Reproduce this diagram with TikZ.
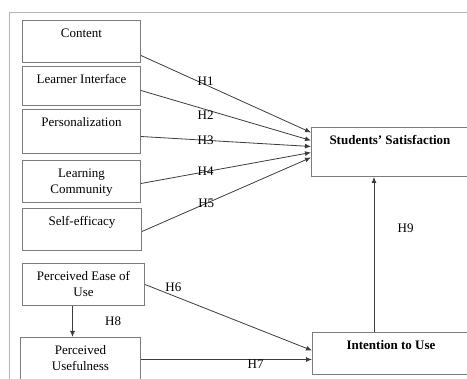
\documentclass[tikz,border=0pt]{standalone}
\usepackage{fontspec}
\setmainfont{Liberation Serif}
\usetikzlibrary{positioning,arrows.meta}
\definecolor{framegray}{HTML}{B4B4B4}
\definecolor{boxgray}{HTML}{7C7C7C}
\definecolor{linegray}{HTML}{3C3C3C}
\newcommand{\factortext}[3]{\parbox[c][#2][t]{#1}{\centering\rule{0pt}{17pt}#3}}

\begin{document}
\begin{tikzpicture}[x=1pt,y=-1pt,
  font=\fontsize{13}{16}\selectfont,
  factor/.style={draw=boxgray, line width=1pt, inner sep=0pt, anchor=north west},
  hyp/.style={draw=linegray, line width=0.8pt, -{Latex[length=6pt,width=5pt]}}]
\useasboundingbox (0,0) rectangle (467,379);
\clip (0,0) rectangle (467,379);
\draw[framegray, line width=1pt] (9,13) rectangle (490,400);
% antecedents
\node[factor] (content) at (22,20) {\factortext{118pt}{42pt}{Content}};
\node[factor] (interface) at (22,66) {\factortext{118pt}{39pt}{Learner Interface}};
\node[factor] (personal) at (22,109) {\factortext{118pt}{44pt}{Personalization}};
\node[factor] (community) at (22,160) {\factortext{118pt}{42pt}{Learning\\ Community}};
\node[factor] (selfeff) at (22,208) {\factortext{119pt}{42pt}{Self-efficacy}};
\node[factor] (ease) at (22,263) {\factortext{122pt}{42pt}{Perceived Ease of\\ Use}};
\node[factor] (useful) at (20,337) {\factortext{120pt}{44pt}{Perceived\\ Usefulness}};
% outcomes
\node[factor] (satisf) at (311,127) {\factortext{157pt}{49pt}{\textbf{Students' Satisfaction}}};
\node[factor] (intent) at (312,332) {\factortext{157pt}{42pt}{\textbf{Intention to Use}}};
% hypotheses
\draw[hyp] ([yshift=-14pt]content.east) -- node[pos=0.38, yshift=4pt]{H1} ([yshift=19.5pt]satisf.west);
\draw[hyp] ([yshift=-4.5pt]interface.east) -- node[pos=0.38, yshift=-6pt]{H2} ([yshift=11.5pt]satisf.west);
\draw[hyp] ([yshift=-5pt]personal.east) -- node[pos=0.38]{H3} ([yshift=5.5pt]satisf.west);
\draw[hyp] ([yshift=-2pt]community.east) -- node[pos=0.38]{H4} ([yshift=-0.5pt]satisf.west);
\draw[hyp] ([yshift=-2pt]selfeff.east) -- node[pos=0.38]{H5} ([yshift=-5.5pt]satisf.west);
\draw[hyp] (ease.east) -- node[pos=0.17, above]{H6} ([yshift=3pt]intent.west);
\draw[hyp] (useful.east) -- node[pos=0.67, below=-3pt]{H7} (useful.east -| intent.west);
\draw[hyp] ([xshift=-11pt]ease.south) -- node[right=29pt]{H8} ([xshift=-11pt]ease.south |- useful.north);
\draw[hyp] ([xshift=62pt]intent.north west) -- node[pos=0.67, right=20pt]{H9} ([xshift=62pt]intent.north west |- satisf.south);
\end{tikzpicture}
\end{document}
